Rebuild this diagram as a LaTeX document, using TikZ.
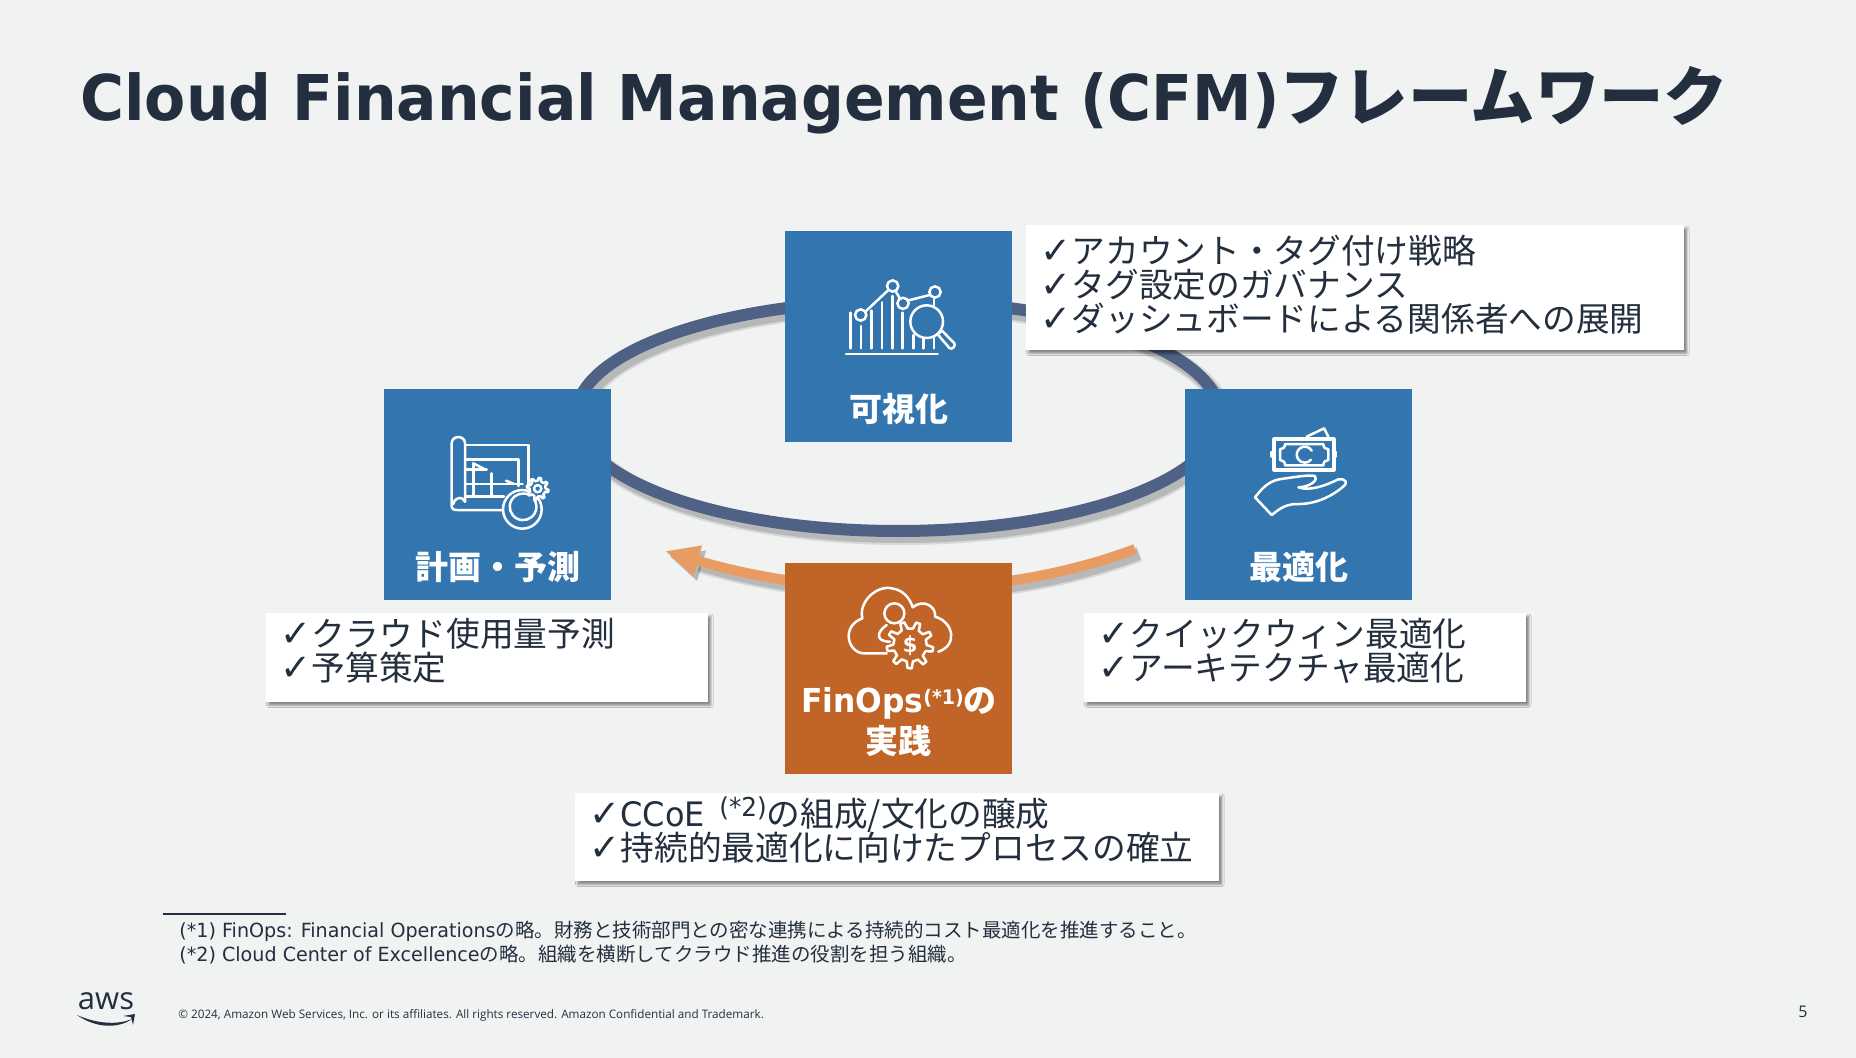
\documentclass[tikz,border=0pt]{standalone}
\usepackage{fontspec}
\setmainfont{Noto Sans CJK JP}
\newfontfamily\latinfont[FakeStretch=.95]{DejaVu Sans}
\newfontfamily\notefont[FakeStretch=.98]{DejaVu Sans}
\newfontfamily\checkfont{DejaVu Sans}
\newfontfamily\smallfont{Open Sans}
\usetikzlibrary{arrows.meta, shapes.geometric, shadows.blur}

\definecolor{pagegray}{HTML}{F1F3F3}
\definecolor{inkdark}{HTML}{232F3E}
\definecolor{tileblue}{HTML}{3375AE}
\definecolor{tileorange}{HTML}{C06527}
\definecolor{ringblue}{HTML}{4F6285}
\definecolor{arroworange}{HTML}{E89C63}

\newcommand{\lat}[1]{{\latinfont #1}}
\newcommand{\chk}{\makebox[15.6pt][l]{\checkfont\fontsize{18.5}{17}\selectfont ✓}}

% gear outline: centre x, centre y, inner radius, outer radius, teeth, fill
\newcommand{\gearicon}[6]{%
    \begin{scope}[shift={(#1,#2)}]
        \draw[iconline, fill=#6] (0:#3)
            \foreach \t in {1,...,#5}{
                -- ({(\t-1+.14)*360/#5}:#4) -- ({(\t-1+.4)*360/#5}:#4)
                -- ({(\t-1+.54)*360/#5}:#3) -- ({\t*360/#5}:#3)
            } -- cycle;
    \end{scope}}

\tikzset{
    tile/.style={
        rectangle, inner sep=0pt, minimum width=113.5pt, minimum height=105.5pt
    },
    tilelabel/.style={
        text=white, inner sep=0pt, font=\fontsize{16.5}{20}\selectfont\bfseries
    },
    callout/.style={
        rectangle, fill=white, anchor=north west, inner xsep=7pt, inner ysep=0pt,
        align=left, text=inkdark, font=\fontsize{16.85}{17}\selectfont,
        execute at begin node={\lineskiplimit=-20pt},
        execute at end node={\par\vspace{#1}},
        blur shadow={shadow xshift=1.2pt, shadow yshift=-1.4pt, shadow blur radius=1.1pt,
            shadow opacity=45}
    },
    softshade/.style={
        preaction={draw=black, opacity=.10, line width=#1+3pt,
            transform canvas={shift={(2pt,-2.5pt)}}},
        preaction={draw=black, opacity=.15, line width=#1+1pt,
            transform canvas={shift={(2pt,-2.5pt)}}},
        line width=#1
    },
    iconline/.style={
        draw=white, line width=1.25pt, line cap=round, line join=round
    },
    iconzoom/.style={
        x=.16667pt, y=-.16667pt
    },
}

\begin{document}
\begin{tikzpicture}[x=.5pt, y=-.5pt]

        \useasboundingbox[fill=pagegray] (0,0) rectangle (1856,1058);

        % TITLE
        \node[anchor=west, inner sep=0pt, text=inkdark, font=\fontsize{32.2}{36}\selectfont\bfseries] (title) at (80,100)
            {{\latinfont\fontsize{31.55}{36}\selectfont Cloud Financial Management (CFM)}フレームワーク};

        % RING AND ARROW BEHIND THE TILES
        \node[ellipse, draw=ringblue, softshade=6pt, inner sep=0pt, minimum width=322pt, minimum height=115pt] (ring) at (898,416) {};
        \coordinate (arrowstart) at (1135,549);
        \coordinate (arrowtip)   at (665,551);
        \draw[draw=arroworange, softshade=5pt, -{Triangle[length=17pt, width=14.5pt, fill=arroworange]}]
            (arrowstart) .. controls (1000,600) and (830,600) .. (arrowtip);

        % CALLOUTS
        \node[callout=3.5pt, text width=315pt, minimum height=62.5pt] (callvis) at (1026,225) {%
            \chk アカウント・タグ付け戦略\\
            \chk タグ設定のガバナンス\\
            \chk ダッシュボードによる関係者への展開};
        \node[callout=7pt, text width=207pt, minimum height=44.5pt] (callplan) at (266,613) {%
            \chk クラウド使用量予測\\
            \chk 予算策定};
        \node[callout=7pt, text width=207pt, minimum height=44.5pt] (callopt) at (1084,613) {%
            \chk クイックウィン最適化\\
            \chk アーキテクチャ最適化};
        \node[callout=7pt, text width=308pt, minimum height=44pt] (callops) at (575,793) {%
            \chk \lat{CCoE}\hspace{1.5pt} {\fontsize{13}{10}\selectfont\raisebox{5pt}{\lat{(*2)}}}の組成/文化の醸成\\
            \chk 持続的最適化に向けたプロセスの確立};

        % TILES
        \node[tile, fill=tileblue]   (vis)  at (898.5,336.5) {};
        \node[tile, fill=tileblue]   (plan) at (497.5,494.5) {};
        \node[tile, fill=tileblue]   (opt)  at (1298.5,494.5) {};
        \node[tile, fill=tileorange] (ops)  at (898.5,668.5) {};

        \node[tilelabel] (vislabel)  at (898.5,409) {可視化};
        \node[tilelabel] (planlabel) at (497.5,567) {計画・予測};
        \node[tilelabel] (optlabel)  at (1298.5,567) {最適化};
        \node[tilelabel] (opslabel)  at (899,703)
            {\lat{FinOps}{\fontsize{10}{9}\selectfont\raisebox{4pt}{\lat{(*1)}}}の};
        \node[tilelabel] (opslabelb) at (898,741) {実践};

        % ICON OF THE CHART
        \begin{scope}[shift={(385pt,-110pt)}, iconzoom]
            \draw[iconline] (228,402) -- (503,402);
            \foreach \barx/\bartop in {242/278, 273/318, 305/272, 336/247, 367/228, 398/278, 430/345, 461/352, 492/350}
                \draw[iconline] (\barx,\bartop) -- (\barx,385);
            \draw[iconline] (492,238) -- (492,256);
            \draw[iconline] (287,274) -- (353,212);
            \draw[iconline] (377,214) -- (389,234);
            \draw[iconline] (416,241) -- (479,225);
            \foreach \dotx/\doty in {272/285, 368/198, 399/250, 495/216}
                \draw[iconline, fill=tileblue] (\dotx,\doty) circle (17);
            \draw[iconline, fill=tileblue] (470,305) circle (49);
            \draw[iconline, fill=tileblue] (503,343) -- (516,332) -- (553,370)
                .. controls (558,378) and (546,391) .. (538,384) -- cycle;
        \end{scope}

        % ICON OF THE PLAN
        \begin{scope}[shift={(185pt,-190pt)}, iconzoom]
            \draw[iconline] (285,365) -- (285,190) .. controls (285,165) and (245,165) .. (245,190)
                -- (245,378) .. controls (245,388) and (252,390) .. (262,390) -- (405,390);
            \draw[iconline] (285,365) .. controls (278,348) and (255,350) .. (250,372);
            \draw[iconline] (287,195) -- (475,195) -- (475,312);
            \draw[iconline] (290,238) -- (445,238) -- (445,318);
            \draw[iconline] (288,268) -- (350,268);
            \draw[iconline] (288,312) -- (458,312);
            \draw[iconline] (288,350) -- (402,350);
            \draw[iconline] (310,250) -- (310,350) (365,280) -- (365,350);
            \draw[iconline] (310,250) -- (345,268) (408,302) -- (432,312);
            \draw[iconline, fill=tileblue] (457,388) circle (58);
            \draw[iconline] (478,345) arc[start angle=-62, end angle=-395, radius=40];
            \gearicon{503}{326}{24}{33}{8}{tileblue}
            \draw[iconline] (503,326) circle (11);
        \end{scope}

        % ICON OF THE BANKNOTE ON A HAND
        \begin{scope}[shift={(585pt,-190pt)}, iconzoom]
            \draw[iconline] (410,170) -- (462,145) -- (475,170);
            \draw[iconline, line width=1.6pt] (312,177) rectangle (492,270);
            \draw[iconline] (305,216) -- (305,230) (498,216) -- (498,230);
            \draw[iconline] (345,192) -- (460,192) .. controls (460,202) and (466,208) .. (475,208)
                -- (475,240) .. controls (466,240) and (460,246) .. (460,256)
                -- (345,256) .. controls (345,246) and (339,240) .. (330,240)
                -- (330,208) .. controls (339,208) and (345,202) .. (345,192);
            \draw[iconline] (425,212) arc[start angle=-30, end angle=-320, radius=24];
            \draw[iconline] (255,352) .. controls (280,320) and (300,300) .. (340,296)
                .. controls (370,292) and (420,283) .. (435,288)
                .. controls (445,298) and (425,320) .. (385,322)
                .. controls (420,335) and (470,315) .. (505,298)
                .. controls (530,295) and (532,310) .. (522,318)
                .. controls (490,345) and (440,375) .. (375,372)
                .. controls (340,375) and (325,390) .. (305,405) -- cycle;
        \end{scope}

        % ICON OF THE CLOUD AND GEAR
        \begin{scope}[shift={(330pt,-265pt)}, iconzoom]
            \draw[iconline] (680,370) -- (612,370) .. controls (565,370) and (540,290) .. (607,265)
                .. controls (595,215) and (650,165) .. (695,175)
                .. controls (730,180) and (750,205) .. (758,232)
                .. controls (790,205) and (830,230) .. (825,260)
                .. controls (880,275) and (895,345) .. (835,365);
            \draw[iconline] (703,250) circle (30);
            \draw[iconline] (680,285) .. controls (650,305) and (645,335) .. (690,335);
            \draw[iconline] (728,282) -- (745,295);
            \gearicon{750}{345}{50}{70}{9}{tileorange}
            \node[inner sep=0pt, text=white, font=\fontsize{11}{11}\selectfont\bfseries] (dollar) at (750,347) {\lat{\$}};
        \end{scope}

        % FOOTNOTES
        \coordinate (ruleleft)  at (163,914);
        \coordinate (ruleright) at (286,914);
        \draw[inkdark, line width=1pt] (ruleleft) -- (ruleright);
        \node[anchor=west, inner sep=0pt, text=inkdark, font=\fontsize{9.75}{12}\selectfont] (noteone) at (179,931)
            {{\notefont (*1) FinOps: Financial Operations}の略。財務と技術部門との密な連携による持続的コスト最適化を推進すること。};
        \node[anchor=west, inner sep=0pt, text=inkdark, font=\fontsize{9.75}{12}\selectfont] (notetwo) at (179,955)
            {{\notefont (*2) Cloud Center of Excellence}の略。組織を横断してクラウド推進の役割を担う組織。};

        % FOOT OF THE PAGE
        \node[anchor=west, inner sep=0pt, text=inkdark, font=\smallfont\fontsize{5.85}{8}\selectfont] (copyright) at (178,1015)
            {© 2024, Amazon Web Services, Inc. or its affiliates. All rights reserved. Amazon Confidential and Trademark.};
        \node[inner sep=0pt, text=inkdark, font=\smallfont\fontsize{8}{10}\selectfont] (pagenumber) at (1803,1012) {5};
        \node[inner sep=0pt, text=inkdark, font=\smallfont\fontsize{15.5}{16}\selectfont] (awstext) at (106,1001) {aws};
        \fill[inkdark] (77,1015) .. controls (95,1028) and (118,1029) .. (132,1019)
            .. controls (118,1025) and (97,1024) .. (77,1015);
        \fill[inkdark] (123,1016) -- (135,1014) -- (133,1025) -- (131,1017) -- cycle;

    \end{tikzpicture}
\end{document}
